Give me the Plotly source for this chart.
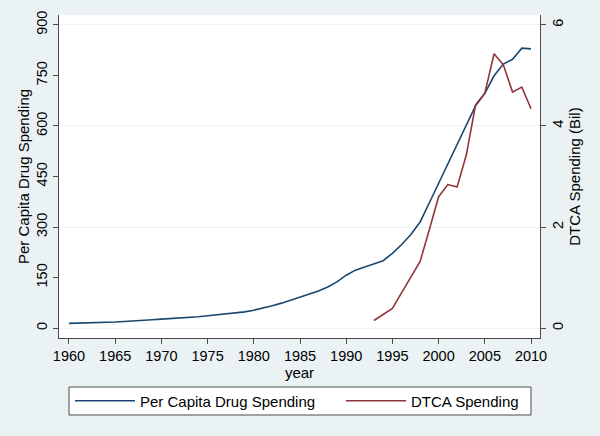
import plotly.graph_objects as go

years = list(range(1960, 2011))
per_capita = [14, 14.5, 15.5, 16, 17, 18, 19.5, 20.5, 22.5, 24.5,
              26.5, 28, 29.5, 31, 33.5, 36.5, 39, 41, 44, 48,
              53, 59, 66, 74, 83, 91, 100, 110, 122, 137,
              157, 172, 181, 190, 200, 222, 248, 278, 315, 372,
              430, 488, 546, 604, 660, 697, 749, 784, 798, 831, 829]
dtca_years = list(range(1993, 2011))
dtca = [0.15, 0.27, 0.39, 0.70, 1.00, 1.32, 1.95, 2.60, 2.84, 2.79,
        3.43, 4.42, 4.65, 5.43, 5.21, 4.67, 4.77, 4.34]
left_ticks = [0, 150, 300, 450, 600, 750, 900]
right_ticks = [0, 2, 4, 6]
x_ticks = list(range(1960, 2011, 5))

BG = "#EAF2F3"
AX = "#4a4a4a"
FONT = "Liberation Sans, Arial, sans-serif"
TFS = 14.5
FS = 15

fig = go.Figure()
fig.add_trace(go.Scatter(x=years, y=per_capita, mode="lines", name="Per Capita Drug Spending",
                         line=dict(color="#1a476f", width=1.6), legend="legend"))
fig.add_trace(go.Scatter(x=dtca_years, y=dtca, mode="lines", name="DTCA Spending",
                         yaxis="y2", line=dict(color="#90353b", width=1.6), legend="legend2"))

L, R, T, B = 59, 60, 15, 98
pw, ph = 600 - L - R, 436 - T - B

def px(x):
    return (x - L) / pw

def py(y):
    return (436 - B - y) / ph

axis_common = dict(showline=True, linecolor=AX, linewidth=1, ticks="outside", ticklen=5,
                   tickcolor=AX, zeroline=False, tickfont=dict(size=TFS), automargin=False)

leg_common = dict(orientation="h", xanchor="left", y=py(401), yanchor="middle",
                  bgcolor="rgba(0,0,0,0)", borderwidth=0, itemwidth=60, font=dict(size=FS))

fig.update_layout(
    width=600, height=436, showlegend=True,
    margin=dict(l=L, r=R, t=T, b=B, pad=0, autoexpand=False),
    paper_bgcolor=BG, plot_bgcolor="white",
    font=dict(family=FONT, size=FS, color="#000"),
    xaxis=dict(range=[1958.92, 2010.97], tickvals=x_ticks, showgrid=False,
               ticklabelstandoff=0,
               title=dict(text="year", standoff=0, font=dict(size=FS)), **axis_common),
    yaxis=dict(range=[-29.5, 929.5], tickvals=left_ticks, showgrid=False, tickangle=-90,
               ticklabelstandoff=0,
               title=dict(text="Per Capita Drug Spending", standoff=0, font=dict(size=FS)),
               **axis_common),
    yaxis2=dict(range=[-29.5 / 150, 929.5 / 150], tickvals=right_ticks, overlaying="y", side="right",
                showgrid=True, gridcolor=BG, gridwidth=1, tickangle=-90,
                title=dict(text="DTCA Spending (Bil)", standoff=0, font=dict(size=FS)),
                **axis_common),
    legend=dict(x=px(70), **leg_common),
    legend2=dict(x=px(341), **leg_common),
    shapes=[dict(type="rect", xref="paper", yref="paper",
                 x0=px(69), x1=px(531), y0=py(415), y1=py(387),
                 fillcolor="white", line=dict(color=AX, width=1), layer="below")],
)

fig.write_html("out.html", config={"displayModeBar": False},
               post_script="document.body.style.margin='0';document.body.style.background='%s';" % BG)
